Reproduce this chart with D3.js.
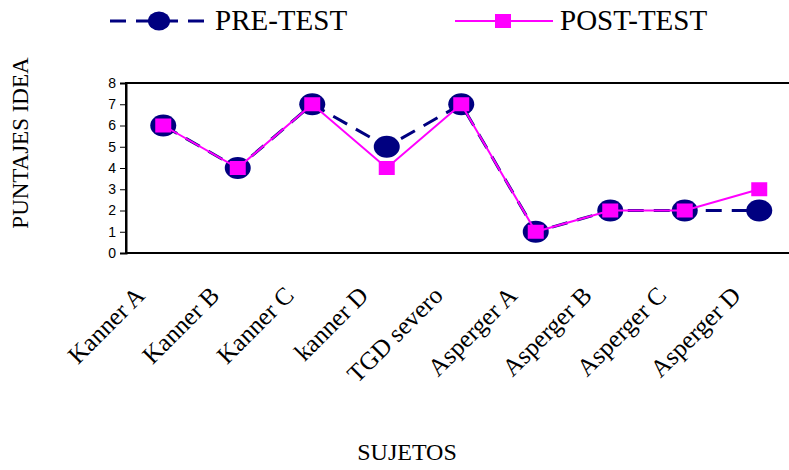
<!DOCTYPE html>
<html>
<head>
<meta charset="utf-8">
<script src="https://cdn.jsdelivr.net/npm/d3@7"></script>
<style>
  html, body { margin: 0; padding: 0; background: #fff; }
  svg { display: block; }
</style>
</head>
<body>
<div id="chart"></div>
<script>
// Subjects and IDEA scores before and after the intervention
const subjects = ["Kanner A", "Kanner B", "Kanner C", "kanner D", "TGD severo",
                  "Asperger A", "Asperger B", "Asperger C", "Asperger D"];
const preTest  = [6, 4, 7, 5, 7, 1, 2, 2, 2];
const postTest = [6, 4, 7, 4, 7, 1, 2, 2, 3];
const yTicks   = [0, 1, 2, 3, 4, 5, 6, 7, 8];

const W = 789, H = 470;
const plot = { left: 126, right: 796.5, top: 83, bottom: 253 };
const NAVY = "#000080", MAGENTA = "#FF00FF";
const serif = "'Liberation Serif', 'Times New Roman', serif";
const sans = "'Liberation Sans', Arial, sans-serif";
const DASH = "16,10";

const svg = d3.select("#chart").append("svg")
  .attr("width", W).attr("height", H);

const x = d3.scaleBand().domain(subjects).range([plot.left, plot.right]);
const y = d3.scaleLinear().domain([0, 8]).range([plot.bottom, plot.top]);
const cx = d => x(d) + x.bandwidth() / 2;

// Plot frame
svg.append("rect")
  .attr("x", plot.left).attr("y", plot.top)
  .attr("width", plot.right - plot.left).attr("height", plot.bottom - plot.top)
  .attr("fill", "none").attr("stroke", "#000").attr("stroke-width", 2);

// Y axis
const yAxis = svg.append("g")
  .attr("transform", `translate(${plot.left},0)`)
  .call(d3.axisLeft(y).tickValues(yTicks).tickSize(6).tickPadding(4));
yAxis.select(".domain").attr("stroke", "#000").attr("stroke-width", 2);
yAxis.selectAll(".tick line").attr("stroke", "#000");
yAxis.selectAll(".tick text")
  .attr("font-family", sans).attr("font-size", 14).attr("fill", "#000");

// Category labels, rotated
svg.append("g").selectAll("text")
  .data(subjects).join("text")
  .attr("transform", d => `translate(${cx(d) - 17},${297}) rotate(-45)`)
  .attr("text-anchor", "end")
  .attr("font-family", serif).attr("font-size", 25)
  .attr("fill", "#000")
  .text(d => d);

// Axis titles
svg.append("text")
  .attr("transform", `translate(28,143) rotate(-90)`)
  .attr("text-anchor", "middle")
  .attr("font-family", serif).attr("font-size", 23)
  .text("PUNTAJES IDEA");

svg.append("text")
  .attr("x", 407).attr("y", 460)
  .attr("text-anchor", "middle")
  .attr("font-family", serif).attr("font-size", 24)
  .text("SUJETOS");

const line = d3.line().x((d, i) => cx(subjects[i])).y(d => y(d));

// PRE-TEST series: dashed navy line with ellipse markers
svg.append("path")
  .datum(preTest)
  .attr("d", line)
  .attr("fill", "none").attr("stroke", NAVY)
  .attr("stroke-width", 3).attr("stroke-dasharray", DASH);

svg.append("g").selectAll("ellipse")
  .data(preTest).join("ellipse")
  .attr("cx", (d, i) => cx(subjects[i]))
  .attr("cy", d => y(d))
  .attr("rx", 13).attr("ry", 11)
  .attr("fill", NAVY);

// POST-TEST series: solid magenta line with square markers
svg.append("path")
  .datum(postTest)
  .attr("d", line)
  .attr("fill", "none").attr("stroke", MAGENTA)
  .attr("stroke-width", 2);

svg.append("g").selectAll("rect")
  .data(postTest).join("rect")
  .attr("x", (d, i) => cx(subjects[i]) - 8)
  .attr("y", d => y(d) - 7)
  .attr("width", 16).attr("height", 14)
  .attr("fill", MAGENTA);

// Legend
const legend = svg.append("g");
legend.append("line")
  .attr("x1", 110).attr("x2", 207).attr("y1", 21).attr("y2", 21)
  .attr("stroke", NAVY).attr("stroke-width", 3).attr("stroke-dasharray", DASH);
legend.append("ellipse")
  .attr("cx", 159).attr("cy", 21).attr("rx", 11).attr("ry", 9.5).attr("fill", NAVY);
legend.append("text")
  .attr("x", 215).attr("y", 30)
  .attr("font-family", serif).attr("font-size", 29)
  .text("PRE-TEST");

legend.append("line")
  .attr("x1", 455).attr("x2", 553).attr("y1", 21).attr("y2", 21)
  .attr("stroke", MAGENTA).attr("stroke-width", 2);
legend.append("rect")
  .attr("x", 495).attr("y", 14).attr("width", 16).attr("height", 14).attr("fill", MAGENTA);
legend.append("text")
  .attr("x", 560).attr("y", 30)
  .attr("font-family", serif).attr("font-size", 29)
  .text("POST-TEST");
</script>
</body>
</html>
